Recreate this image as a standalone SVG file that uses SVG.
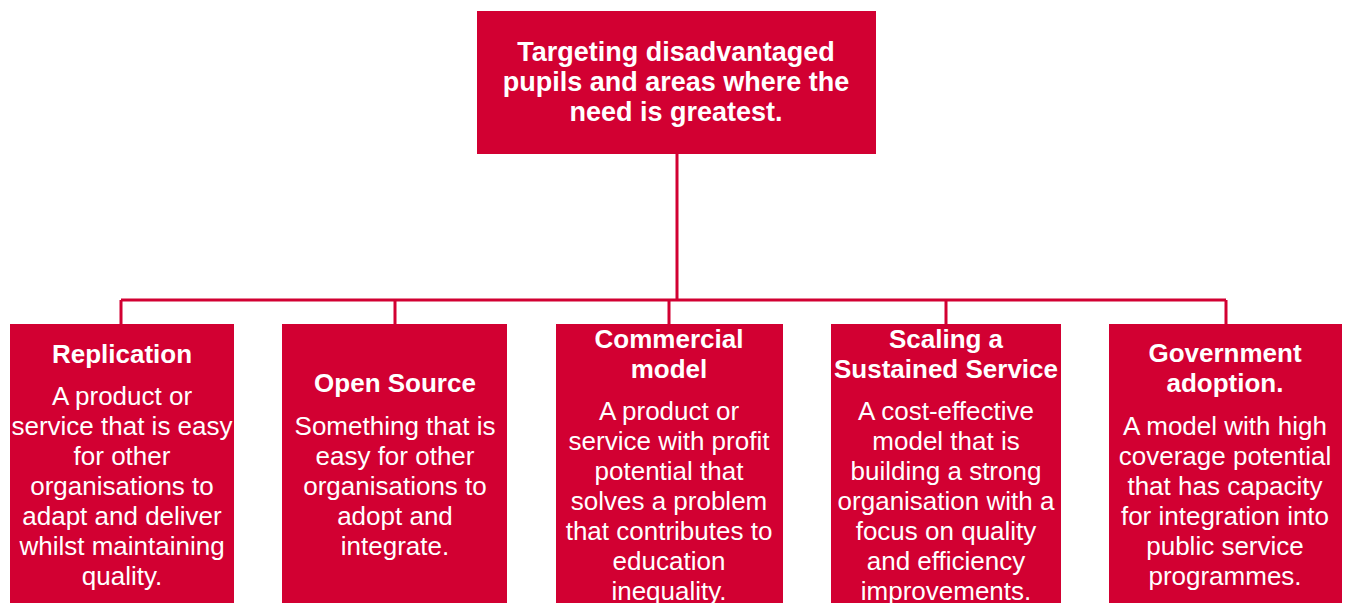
<svg xmlns="http://www.w3.org/2000/svg" width="1348" height="603" viewBox="0 0 1348 603">
<style>
.box{fill:#D20032}
.h{font-family:"Liberation Sans",Arial,sans-serif;font-weight:bold;font-size:26px;fill:#fff;text-anchor:middle}
.t{font-family:"Liberation Sans",Arial,sans-serif;font-size:26px;fill:#fff;text-anchor:middle}
.top{font-size:27px}
.c{stroke:#D20032;stroke-width:3;fill:none}
</style>
<rect width="1348" height="603" fill="#fff"/>
<g id="connectors">
<path class="c" d="M677 154V300M121 300H1226M121 300V324M395 300V324M669 300V324M946 300V324M1226 300V324"/>
</g>
<g id="top">
<rect class="box" x="477" y="11" width="399" height="143"/>
<text class="h top" x="676" y="61">Targeting disadvantaged</text>
<text class="h top" x="676" y="91">pupils and areas where the</text>
<text class="h top" x="676" y="121">need is greatest.</text>
</g>
<g id="replication">
<rect class="box" x="10" y="324" width="224" height="279"/>
<text class="h" x="122" y="363">Replication</text>
<text class="t" x="122" y="405">A product or</text>
<text class="t" x="122" y="435">service that is easy</text>
<text class="t" x="122" y="465">for other</text>
<text class="t" x="122" y="495">organisations to</text>
<text class="t" x="122" y="525">adapt and deliver</text>
<text class="t" x="122" y="555">whilst maintaining</text>
<text class="t" x="122" y="585">quality.</text>
</g>
<g id="open-source">
<rect class="box" x="282" y="324" width="225" height="279"/>
<text class="h" x="395" y="392">Open Source</text>
<text class="t" x="395" y="435">Something that is</text>
<text class="t" x="395" y="465">easy for other</text>
<text class="t" x="395" y="495">organisations to</text>
<text class="t" x="395" y="525">adopt and</text>
<text class="t" x="395" y="555">integrate.</text>
</g>
<g id="commercial">
<rect class="box" x="556" y="324" width="227" height="279"/>
<text class="h" x="669" y="348">Commercial</text>
<text class="h" x="669" y="378">model</text>
<text class="t" x="669" y="420">A product or</text>
<text class="t" x="669" y="450">service with profit</text>
<text class="t" x="669" y="480">potential that</text>
<text class="t" x="669" y="510">solves a problem</text>
<text class="t" x="669" y="540">that contributes to</text>
<text class="t" x="669" y="570">education</text>
<text class="t" x="669" y="600">inequality.</text>
</g>
<g id="scaling">
<rect class="box" x="831" y="324" width="230" height="279"/>
<text class="h" x="946" y="348">Scaling a</text>
<text class="h" x="946" y="378">Sustained Service</text>
<text class="t" x="946" y="420">A cost-effective</text>
<text class="t" x="946" y="450">model that is</text>
<text class="t" x="946" y="480">building a strong</text>
<text class="t" x="946" y="510">organisation with a</text>
<text class="t" x="946" y="540">focus on quality</text>
<text class="t" x="946" y="570">and efficiency</text>
<text class="t" x="946" y="600">improvements.</text>
</g>
<g id="government">
<rect class="box" x="1109" y="324" width="233" height="279"/>
<text class="h" x="1225" y="362">Government</text>
<text class="h" x="1225" y="392">adoption.</text>
<text class="t" x="1225" y="435">A model with high</text>
<text class="t" x="1225" y="465">coverage potential</text>
<text class="t" x="1225" y="495">that has capacity</text>
<text class="t" x="1225" y="525">for integration into</text>
<text class="t" x="1225" y="555">public service</text>
<text class="t" x="1225" y="585">programmes.</text>
</g>
</svg>
